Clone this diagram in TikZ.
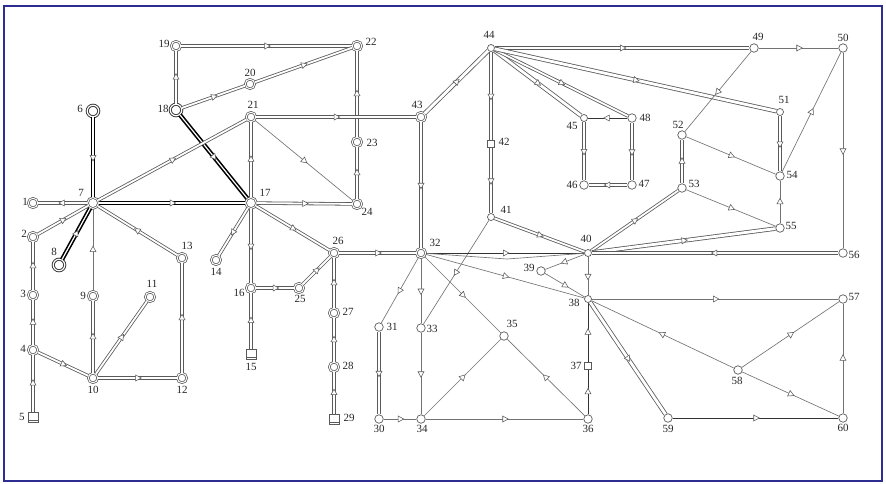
\documentclass[tikz,border=0pt]{standalone}
\usepackage{fontspec}
\setmainfont{Liberation Serif}
\usetikzlibrary{shapes.geometric}
\definecolor{frame}{RGB}{45,45,145}
\definecolor{pipe}{RGB}{90,90,90}
\newcommand\pipeedge[3]{\draw[#1] (#2) -- (#3); \path (#2) -- node[arr]{} (#3);}
\begin{document}
\begin{tikzpicture}[x=1pt,y=-1pt,
  nd/.style={circle, draw=pipe, fill=white, minimum size=8.5pt, inner sep=0pt, line width=0.7pt},
  nds/.style={nd, minimum size=7pt},
  nd2/.style={circle, draw=pipe, fill=white, double=white, double distance=0.9pt, line width=0.75pt, minimum size=9.5pt, inner sep=0pt},
  ndd/.style={nd2, minimum size=11pt},
  ndb/.style={circle, draw=pipe!70!black, fill=white, double=white, double distance=1.1pt, line width=1pt, minimum size=11.5pt, inner sep=0pt},
  sq/.style={rectangle, draw=pipe, fill=white, minimum size=10pt, inner sep=0pt, line width=0.7pt,
    path picture={\draw[pipe, line width=0.6pt] ([yshift=-3pt]path picture bounding box.west) -- ([yshift=-3pt]path picture bounding box.east);}},
  sqs/.style={rectangle, draw=pipe, fill=white, minimum size=7pt, inner sep=0pt, line width=0.7pt},
  lbl/.style={font=\fontsize{11}{12}\selectfont, text=black!85, inner sep=0pt},
  hv/.style={draw=black, double=white, double distance=1.2pt, line width=1.6pt},
  pp/.style={draw=pipe, double=white, double distance=1.8pt, line width=0.8pt},
  pw/.style={draw=pipe, double=white, double distance=2.8pt, line width=0.8pt},
  tn/.style={draw=pipe!85, line width=0.65pt},
  dk/.style={draw=black!80, line width=0.8pt},
  arr/.style={isosceles triangle, isosceles triangle stretches, minimum width=6pt, minimum height=5.5pt,
    inner sep=0pt, draw=pipe, fill=white, line width=0.55pt, sloped, allow upside down}
]
\useasboundingbox (0,0) rectangle (886,483);
\draw[frame, line width=1.2pt] (4,6) rectangle (882,481);
% nodes
\node[nd2] (n1) at (33,203) {};
\node[nd2] (n2) at (33,237) {};
\node[nd2] (n3) at (33,295) {};
\node[nd2] (n4) at (33,350) {};
\node[sq] (n5) at (33,417) {};
\node[ndb] (n6) at (93,111) {};
\node[ndd] (n7) at (93,203) {};
\node[ndb] (n8) at (59,265) {};
\node[nd2] (n9) at (93,296) {};
\node[nd2] (n10) at (93,378) {};
\node[nd2] (n11) at (150,297) {};
\node[nd2] (n12) at (182,378) {};
\node[nd2] (n13) at (182,258) {};
\node[nd2] (n14) at (216,260) {};
\node[sq] (n15) at (251,354) {};
\node[nd2] (n16) at (251,288) {};
\node[ndd] (n17) at (251,203) {};
\node[ndb] (n18) at (176,110) {};
\node[nd2] (n19) at (176,46) {};
\node[nd2] (n20) at (250,84) {};
\node[nd2] (n21) at (251,117) {};
\node[nd2] (n22) at (357,46) {};
\node[nd2] (n23) at (357,142) {};
\node[nd2] (n24) at (357,204) {};
\node[nd2] (n25) at (299,288) {};
\node[nd2] (n26) at (334,253) {};
\node[nd2] (n27) at (334,313) {};
\node[nd2] (n28) at (334,367) {};
\node[sq] (n29) at (334,419) {};
\node[nd] (n30) at (379,419) {};
\node[nd] (n31) at (379,327) {};
\node[nd2] (n32) at (421,253) {};
\node[nd] (n33) at (421,328) {};
\node[nd] (n34) at (421,419) {};
\node[nd] (n35) at (504,336) {};
\node[nd] (n36) at (588,419) {};
\node[sqs] (n37) at (588,366) {};
\node[nds] (n38) at (588,299) {};
\node[nd] (n39) at (541,271) {};
\node[nds] (n40) at (588,253) {};
\node[nds] (n41) at (491,217) {};
\node[sqs] (n42) at (491,144) {};
\node[nd2] (n43) at (421,117) {};
\node[nds] (n44) at (491,48) {};
\node[nds] (n45) at (584,118) {};
\node[nd] (n46) at (584,185) {};
\node[nd] (n47) at (632,185) {};
\node[nd] (n48) at (632,118) {};
\node[nd] (n49) at (754,48) {};
\node[nd] (n50) at (843,48) {};
\node[nds] (n51) at (780,112) {};
\node[nd] (n52) at (682,135) {};
\node[nd] (n53) at (682,188) {};
\node[nd] (n54) at (780,176) {};
\node[nd] (n55) at (780,228) {};
\node[nd] (n56) at (843,253) {};
\node[nd] (n57) at (843,299) {};
\node[nd] (n58) at (738,370) {};
\node[nd] (n59) at (668,418) {};
\node[nd] (n60) at (843,418) {};
\coordinate (k1) at (507,259);
% edges
\pipeedge{hv}{n6}{n7}
\pipeedge{hv}{n8}{n7}
\pipeedge{hv}{n7}{n17}
\pipeedge{hv}{n18}{n17}
\pipeedge{pp}{n7}{n1}
\pipeedge{pp}{n2}{n7}
\pipeedge{pp}{n3}{n2}
\pipeedge{pp}{n4}{n3}
\pipeedge{pp}{n5}{n4}
\pipeedge{pp}{n4}{n10}
\pipeedge{pp}{n10}{n9}
\pipeedge{tn}{n9}{n7}
\pipeedge{pp}{n10}{n11}
\pipeedge{pp}{n10}{n12}
\pipeedge{pp}{n12}{n13}
\pipeedge{pp}{n13}{n7}
\pipeedge{pp}{n7}{n21}
\pipeedge{pp}{n18}{n19}
\pipeedge{pp}{n19}{n22}
\pipeedge{pp}{n18}{n20}
\pipeedge{pp}{n20}{n22}
\pipeedge{pp}{n24}{n23}
\pipeedge{pp}{n23}{n22}
\pipeedge{pp}{n17}{n21}
\pipeedge{pp}{n21}{n43}
\pipeedge{tn}{n21}{n24}
\pipeedge{pp}{n17}{n24}
\pipeedge{pp}{n17}{n14}
\pipeedge{pp}{n17}{n26}
\pipeedge{pp}{n17}{n16}
\pipeedge{pp}{n15}{n16}
\pipeedge{pp}{n16}{n25}
\pipeedge{pp}{n25}{n26}
\pipeedge{pp}{n29}{n28}
\pipeedge{pp}{n28}{n27}
\pipeedge{pp}{n27}{n26}
\pipeedge{pp}{n26}{n32}
\pipeedge{pp}{n43}{n32}
\pipeedge{pw}{n43}{n44}
\pipeedge{pp}{n44}{n42}
\pipeedge{pp}{n42}{n41}
\pipeedge{pp}{n41}{n40}
\pipeedge{tn}{n41}{n33}
\pipeedge{pw}{n44}{n45}
\pipeedge{pp}{n44}{n48}
\pipeedge{dk}{n48}{n45}
\pipeedge{pp}{n45}{n46}
\pipeedge{pp}{n48}{n47}
\pipeedge{pp}{n47}{n46}
\pipeedge{pp}{n44}{n49}
\pipeedge{tn}{n49}{n50}
\pipeedge{pw}{n44}{n51}
\pipeedge{pp}{n51}{n54}
\pipeedge{tn}{n49}{n52}
\pipeedge{pp}{n53}{n52}
\pipeedge{tn}{n52}{n54}
\pipeedge{tn}{n54}{n50}
\pipeedge{tn}{n50}{n56}
\pipeedge{tn}{n53}{n55}
\pipeedge{tn}{n55}{n54}
\pipeedge{pp}{n40}{n53}
\pipeedge{pw}{n40}{n55}
\pipeedge{pp}{n56}{n40}
\pipeedge{dk}{n32}{n40}
\draw[tn] (n32) -- (k1) -- (n40);
\pipeedge{tn}{n32}{n38}
\pipeedge{tn}{n40}{n39}
\pipeedge{tn}{n39}{n38}
\pipeedge{tn}{n40}{n38}
\pipeedge{dk}{n37}{n38}
\pipeedge{dk}{n36}{n37}
\pipeedge{tn}{n38}{n57}
\pipeedge{tn}{n58}{n38}
\pipeedge{tn}{n58}{n57}
\pipeedge{tn}{n58}{n60}
\pipeedge{pw}{n38}{n59}
\pipeedge{dk}{n59}{n60}
\pipeedge{tn}{n60}{n57}
\pipeedge{tn}{n32}{n31}
\pipeedge{pp}{n31}{n30}
\pipeedge{tn}{n30}{n34}
\pipeedge{tn}{n32}{n33}
\pipeedge{tn}{n33}{n34}
\pipeedge{tn}{n34}{n36}
\pipeedge{tn}{n34}{n35}
\pipeedge{tn}{n36}{n35}
\pipeedge{tn}{n32}{n35}
% labels
\node[lbl] (t1) at (25,202) {1};
\node[lbl] (t2) at (24,234) {2};
\node[lbl] (t3) at (23,294) {3};
\node[lbl] (t4) at (23,349) {4};
\node[lbl] (t5) at (22,417) {5};
\node[lbl] (t6) at (80,109) {6};
\node[lbl] (t7) at (81,193) {7};
\node[lbl] (t8) at (54,252) {8};
\node[lbl] (t9) at (83,296) {9};
\node[lbl] (t10) at (93,390) {10};
\node[lbl] (t11) at (152,284) {11};
\node[lbl] (t12) at (182,390) {12};
\node[lbl] (t13) at (187,246) {13};
\node[lbl] (t14) at (216,272) {14};
\node[lbl] (t15) at (251,367) {15};
\node[lbl] (t16) at (239,293) {16};
\node[lbl] (t17) at (265,193) {17};
\node[lbl] (t18) at (163,109) {18};
\node[lbl] (t19) at (164,44) {19};
\node[lbl] (t20) at (250,73) {20};
\node[lbl] (t21) at (253,105) {21};
\node[lbl] (t22) at (371,42) {22};
\node[lbl] (t23) at (372,143) {23};
\node[lbl] (t24) at (367,212) {24};
\node[lbl] (t25) at (300,299) {25};
\node[lbl] (t26) at (338,241) {26};
\node[lbl] (t27) at (348,312) {27};
\node[lbl] (t28) at (348,366) {28};
\node[lbl] (t29) at (349,418) {29};
\node[lbl] (t30) at (379,429) {30};
\node[lbl] (t31) at (392,327) {31};
\node[lbl] (t32) at (435,243) {32};
\node[lbl] (t33) at (432,329) {33};
\node[lbl] (t34) at (422,429) {34};
\node[lbl] (t35) at (512,324) {35};
\node[lbl] (t36) at (588,429) {36};
\node[lbl] (t37) at (576,366) {37};
\node[lbl] (t38) at (574,303) {38};
\node[lbl] (t39) at (529,268) {39};
\node[lbl] (t40) at (586,239) {40};
\node[lbl] (t41) at (506,210) {41};
\node[lbl] (t42) at (504,142) {42};
\node[lbl] (t43) at (417,105) {43};
\node[lbl] (t44) at (489,35) {44};
\node[lbl] (t45) at (572,126) {45};
\node[lbl] (t46) at (572,185) {46};
\node[lbl] (t47) at (644,184) {47};
\node[lbl] (t48) at (645,118) {48};
\node[lbl] (t49) at (758,37) {49};
\node[lbl] (t50) at (843,38) {50};
\node[lbl] (t51) at (784,100) {51};
\node[lbl] (t52) at (678,125) {52};
\node[lbl] (t53) at (694,184) {53};
\node[lbl] (t54) at (792,175) {54};
\node[lbl] (t55) at (791,226) {55};
\node[lbl] (t56) at (854,255) {56};
\node[lbl] (t57) at (854,297) {57};
\node[lbl] (t58) at (737,381) {58};
\node[lbl] (t59) at (668,429) {59};
\node[lbl] (t60) at (843,428) {60};
\end{tikzpicture}
\end{document}
